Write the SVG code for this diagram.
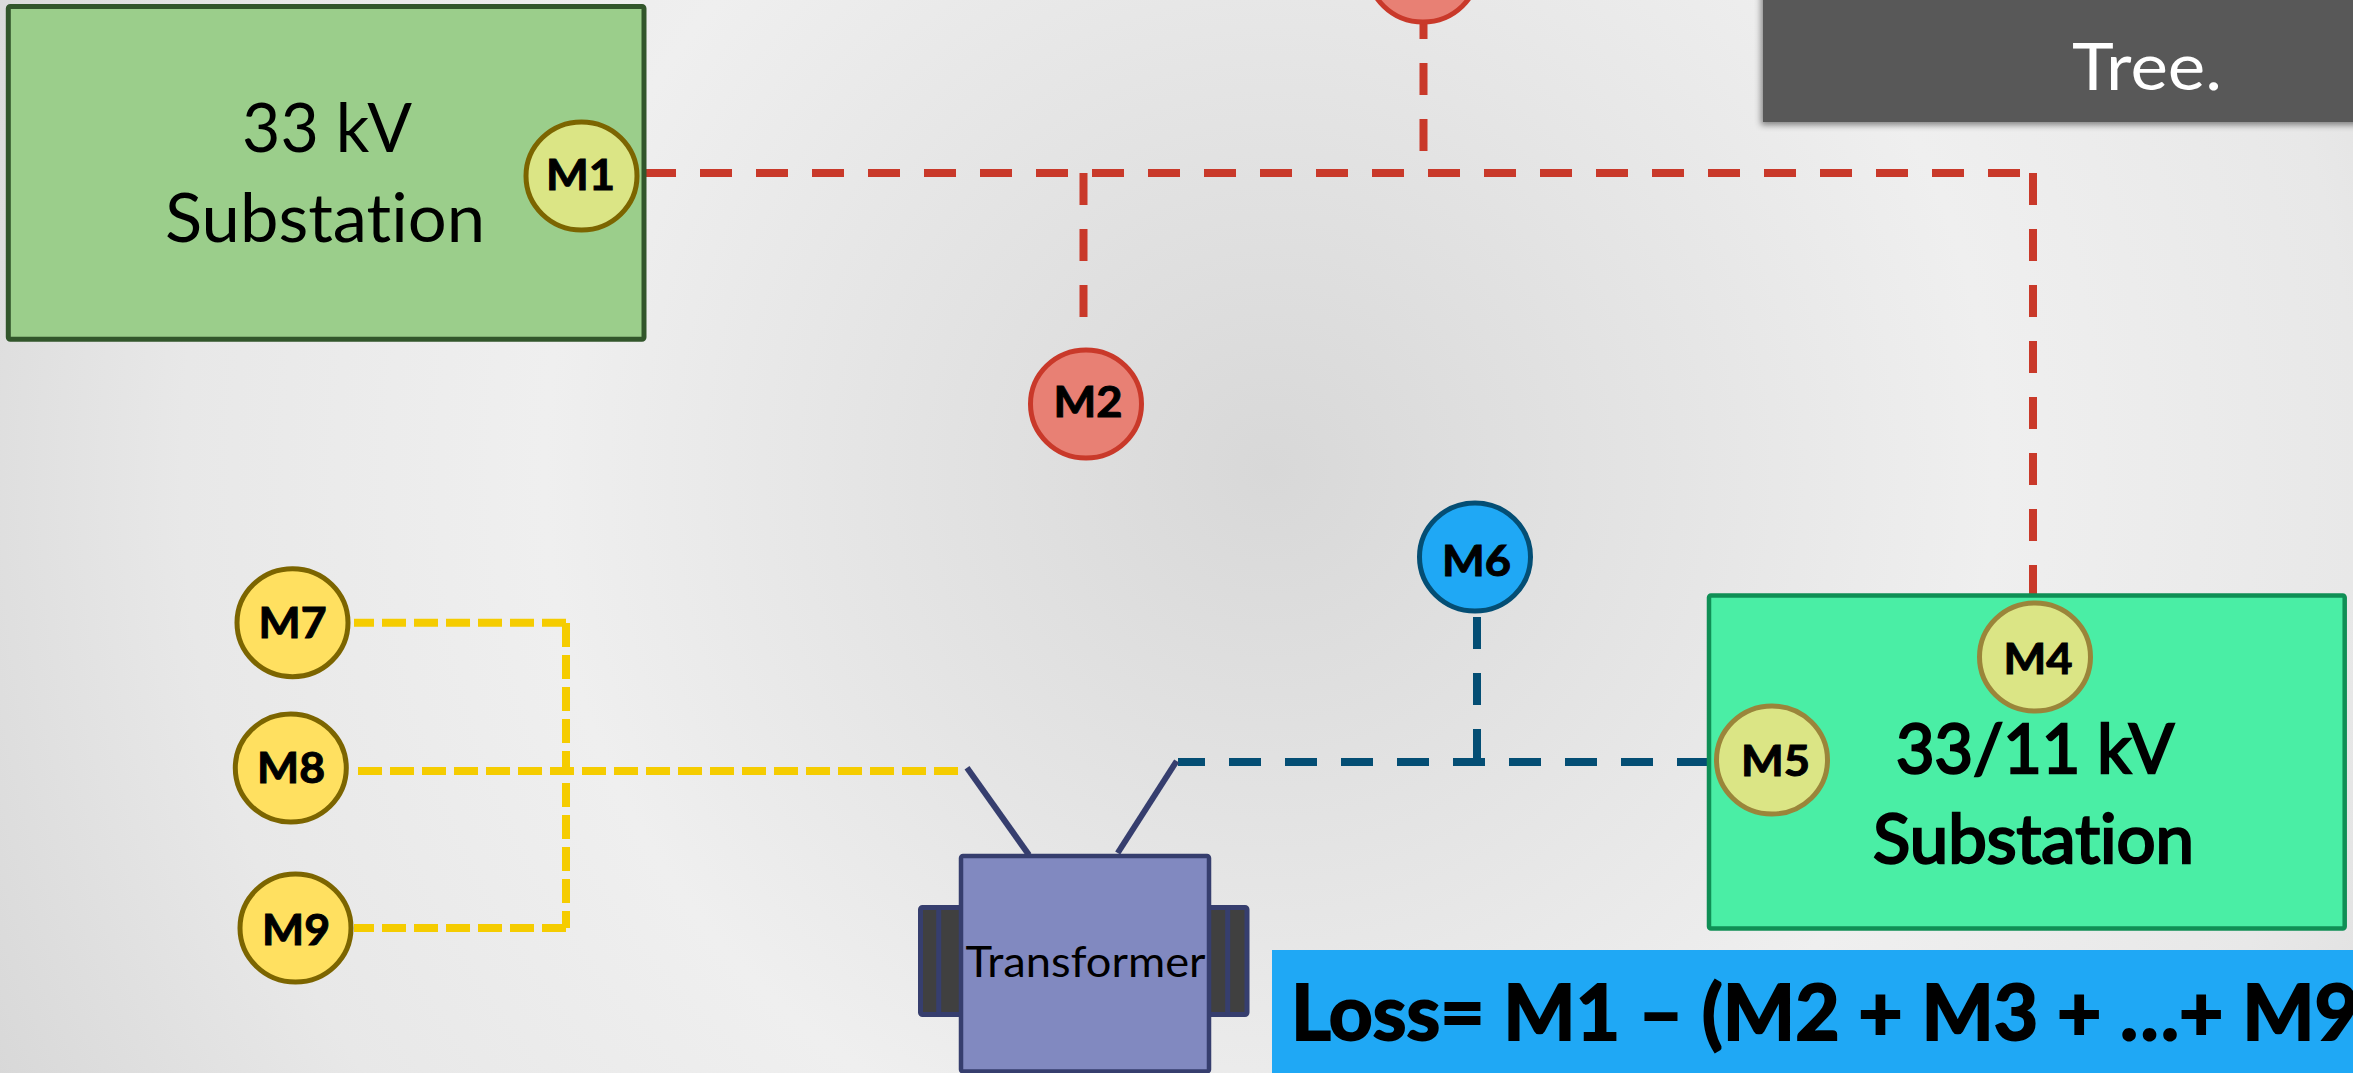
<svg xmlns="http://www.w3.org/2000/svg" width="2353" height="1073" viewBox="0 0 2353 1073">
<style>
text{font-family:"Lato","Liberation Sans",sans-serif;fill:#000;text-anchor:start;font-variant-ligatures:none}
.m{font-size:42px;font-weight:700;stroke:#000;stroke-width:1px}
.big{font-size:68px}
.heavy{stroke:#000;stroke-width:2.5px}
.f{fill:none;stroke-width:8}
.red{stroke:#c9392a;stroke-dasharray:32 24}
.blue{stroke:#044e74;stroke-dasharray:32 24}
.yel{stroke:#f5cc00;stroke-dasharray:24 8}
.lead{stroke:#363e6e;stroke-width:6;fill:none}
.y{fill:#ffe060;stroke:#7c6500;stroke-width:5}
.g{fill:#dbe585;stroke:#9a853a;stroke-width:5}
.r{fill:#e88074;stroke:#c9392a;stroke-width:5}
.coil{fill:#404040;stroke:#363e6e;stroke-width:5}
</style>
<defs>
<radialGradient id="bg" gradientUnits="userSpaceOnUse" cx="1270" cy="470" r="1450">
<stop offset="0" stop-color="#d8d8d8"/><stop offset="0.22" stop-color="#e2e2e2"/><stop offset="0.5" stop-color="#efefef"/><stop offset="0.75" stop-color="#e8e8e8"/><stop offset="1" stop-color="#d6d6d6"/>
</radialGradient>
<filter id="sh" x="-5%" y="-10%" width="110%" height="130%"><feDropShadow dx="-2" dy="3" stdDeviation="3" flood-color="#000" flood-opacity="0.45"/></filter>
</defs>
<rect id="background" width="2353" height="1073" fill="url(#bg)"/>
<g id="connectors">
<path class="f red" d="M644 173H2020"/>
<path class="f red" d="M2033 173V597"/>
<path class="f red" d="M1083.500 173V318"/>
<path class="f red" d="M1423.500 151V23"/>
<path class="f blue" d="M1178 762H1709" stroke-dashoffset="5"/>
<path class="f blue" d="M1477 617V762"/>
<path class="f yel" d="M354 622.700H566" stroke-dashoffset="4"/>
<path class="f yel" d="M354 928H566" stroke-dashoffset="4"/>
<path class="f yel" d="M566 623V928"/>
<path class="f yel" d="M358 771H958"/>
</g>
<g id="substation-33">
<rect x="8.300" y="6.500" width="635.700" height="332.700" rx="2" fill="#9bce8b" stroke="#32562b" stroke-width="5"/>
<text class="big" x="242" y="152" textLength="170" lengthAdjust="spacingAndGlyphs">33 kV</text>
<text class="big" x="165" y="242" textLength="320" lengthAdjust="spacingAndGlyphs">Substation</text>
</g>
<g id="M1">
<ellipse class="y" cx="581.500" cy="176" rx="55.500" ry="54" style="fill:#dbe585"/>
<text class="m" x="546" y="190" textLength="69" lengthAdjust="spacingAndGlyphs">M1</text>
</g>
<g id="substation-33-11">
<rect x="1709" y="595.500" width="635.700" height="333" rx="2" fill="#4aeea5" stroke="#0f8f55" stroke-width="4.500"/>
<text class="big heavy" x="1896" y="773" textLength="278" lengthAdjust="spacingAndGlyphs">33/11 kV</text>
<text class="big heavy" x="1873" y="863" textLength="321" lengthAdjust="spacingAndGlyphs">Substation</text>
</g>
<g id="M4">
<ellipse class="g" cx="2035" cy="657" rx="55.500" ry="54"/>
<text class="m" x="2003.500" y="674" textLength="69" lengthAdjust="spacingAndGlyphs">M4</text>
</g>
<g id="M5">
<ellipse class="g" cx="1772" cy="760" rx="55.500" ry="54"/>
<text class="m" x="1741" y="775.700" textLength="69" lengthAdjust="spacingAndGlyphs">M5</text>
</g>
<g id="M2">
<ellipse class="r" cx="1086" cy="404" rx="55.500" ry="54"/>
<text class="m" x="1053.500" y="416.600" textLength="69" lengthAdjust="spacingAndGlyphs">M2</text>
</g>
<g id="M3">
<ellipse class="r" cx="1423" cy="-32" rx="55.500" ry="54"/>
</g>
<g id="M6">
<ellipse cx="1475" cy="557" rx="55.500" ry="54" fill="#1fa8f5" stroke="#044e74" stroke-width="5"/>
<text class="m" x="1442" y="575.800" textLength="69" lengthAdjust="spacingAndGlyphs">M6</text>
</g>
<g id="M7">
<ellipse class="y" cx="292.500" cy="622.700" rx="55.500" ry="54"/>
<text class="m" x="258.500" y="638.300" textLength="68" lengthAdjust="spacingAndGlyphs">M7</text>
</g>
<g id="M8">
<ellipse class="y" cx="290.800" cy="768" rx="55.500" ry="54"/>
<text class="m" x="257" y="783.300" textLength="68" lengthAdjust="spacingAndGlyphs">M8</text>
</g>
<g id="M9">
<ellipse class="y" cx="295.500" cy="928" rx="55.500" ry="54"/>
<text class="m" x="262" y="945" textLength="68" lengthAdjust="spacingAndGlyphs">M9</text>
</g>
<g id="transformer">
<path class="lead" d="M967 767.700L1029 855"/>
<path class="lead" d="M1176.700 761L1117.700 853"/>
<rect class="coil" x="920.500" y="907.500" width="42" height="107" rx="2"/>
<path class="coil" d="M938.700 907.500V1014.500"/>
<rect class="coil" x="1207" y="907.500" width="40" height="107" rx="2"/>
<path class="coil" d="M1227.700 907.500V1014.500"/>
<rect x="961" y="856" width="248" height="215.500" rx="2" fill="#8189c0" stroke="#363e6e" stroke-width="4.500"/>
<text x="965.500" y="977" font-size="42" textLength="240" lengthAdjust="spacingAndGlyphs">Transformer</text>
</g>
<g id="loss">
<rect x="1272" y="950" width="1081" height="123" fill="#1fa8f5"/>
<text x="1291" y="1040" font-size="76" font-weight="700" stroke="#000" stroke-width="2" textLength="1068" lengthAdjust="spacingAndGlyphs">Loss= M1 – (M2 + M3 + …+ M9</text>
</g>
<g id="note">
<rect x="1763" y="-10" width="600" height="132" fill="#595959" filter="url(#sh)"/>
<text x="2072" y="89.500" font-size="66" textLength="150" lengthAdjust="spacingAndGlyphs" style="fill:#fff">Tree.</text>
</g>
</svg>
